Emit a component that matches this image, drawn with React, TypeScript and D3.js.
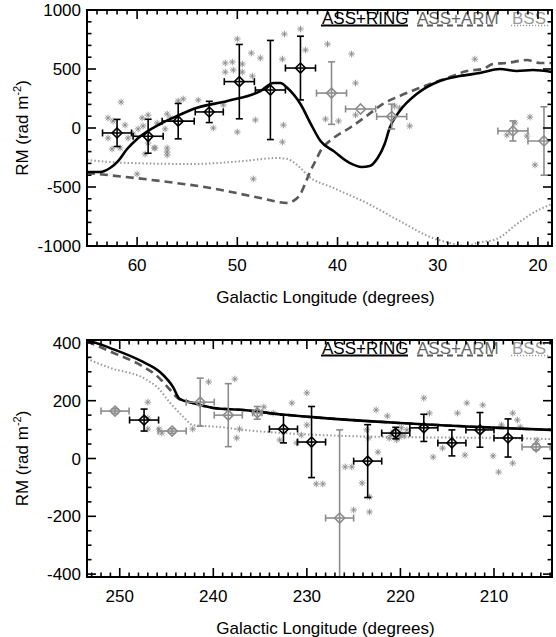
import React from 'react';
import * as d3 from 'd3';

// ---------- top panel data (Galactic longitude, RM) ----------
const topRing: [number, number][] = [[65,-373],[63.7,-373],[62.7,-339],[61.9,-280],[61.0,-178],[60.0,-93],[57.7,34],[56.0,102],[54.4,161],[51.0,229],[47.7,313],[46.4,381],[45.7,381],[45.0,339],[43.7,203],[42.7,40],[41.7,-110],[40.4,-195],[38.8,-296],[37.6,-330],[36.8,-322],[36.0,-254],[35.3,-136],[34.8,0],[33.8,144],[32.1,288],[29.8,398],[27.8,440],[25.8,466],[23.8,500],[22.1,483],[20.5,491],[18.6,474]];
const topArm: [number, number][] = [[65,-381],[57.7,-449],[52.7,-508],[47.7,-593],[45.0,-635],[44.4,-618],[43.7,-559],[43.2,-466],[42.7,-364],[42.2,-280],[41.7,-195],[40.4,-85],[38.8,0],[37.1,102],[35.5,203],[33.8,271],[32.1,330],[30.5,381],[28.8,432],[27.1,483],[25.5,500],[24.5,542],[23.1,551],[21.1,576],[19.8,551],[18.6,551]];
const topBss: [number, number][] = [[65,-271],[61.0,-296],[54.4,-305],[49.4,-280],[46.0,-254],[45.0,-263],[43.7,-339],[42.9,-407],[40.4,-508],[37.1,-635],[33.8,-788],[30.5,-932],[28.8,-974],[27.1,-1000],[26.1,-974],[24.1,-940],[22.1,-813],[20.5,-720],[18.6,-644]];
// [lon, rm, lonErr, rmErr]
const topBlack: number[][] = [[62.0,-42,1.45,115],[58.9,-70,1.5,144],[55.9,58,1.6,150],[52.8,136,1.4,90],[49.8,393,1.5,315],[46.7,322,1.5,420],[43.7,508,1.5,270]];
const topGray: number[][] = [[40.6,296,1.5,265],[37.7,161,1.5,0],[34.6,97,1.5,105],[22.5,-25,1.5,85],[19.4,-110,1.6,290]];
const topStars: [number, number][] = [[61.6,220],[62.9,85],[62.4,59],[61.2,25],[62.9,-85],[60.9,-85],[60.4,-51],[59.9,-8],[59.5,85],[58.9,110],[59.4,17],[58.0,42],[57.0,119],[56.7,85],[57.2,-8],[55.9,229],[55.4,246],[53.9,237],[52.4,0],[51.4,195],[51.2,474],[51.2,551],[50.5,559],[50.4,491],[50.0,754],[49.5,542],[49.5,474],[48.6,635],[48.5,440],[47.7,593],[48.2,68],[50.0,-34],[45.5,584],[45.3,796],[45.4,25],[45.5,-119],[43.7,839],[43.2,661],[41.0,711],[57.0,-169],[58.3,-169],[58.9,-127],[62.5,-178],[61.7,-169],[59.2,-220],[58.2,-169],[57.0,-203],[57.0,-229],[60.0,-390],[48.4,-432],[38.6,627],[38.2,381],[38.2,110],[39.9,59],[41.2,76],[34.3,186],[33.8,169],[26.3,584],[22.3,42],[20.8,93],[23.1,-59],[21.1,-68],[32.8,17],[20.3,-313]];

// ---------- bottom panel data ----------
const botRing: [number, number][] = [[253.5,410],[251,382],[247.5,334],[245.7,299],[244.3,247],[243.6,206],[242.2,192],[240,175],[236.8,168],[233.2,154],[229.7,144],[220.1,123],[209.4,106],[203.8,99]];
const botArm: [number, number][] = [[253.5,405],[251,370],[247.5,318],[246,285],[244.6,237],[243.8,209],[242.2,192],[240,175],[236.8,168],[233.2,154],[229.7,144],[220.1,123],[209.4,106],[203.8,99]];
const botBss: [number, number][] = [[253.5,345],[251,313],[247.5,279],[246,247],[244.6,192],[243.2,144],[242.2,116],[239.3,109],[236.8,99],[231.5,86],[226,78],[220.1,74],[209.4,71],[203.8,67]];
const botBlack: number[][] = [[247.4,133,1.55,38],[232.5,102,1.5,48],[229.5,57,1.5,123],[223.5,-9,1.5,126],[220.5,88,1.5,20],[217.5,106,1.5,47],[214.5,54,1.5,45],[211.5,99,1.5,60],[208.5,71,1.5,66]];
const botGray: number[][] = [[250.5,164,1.5,8],[244.4,95,1.5,8],[241.4,195,1.5,83],[238.4,150,1.5,109],[235.3,158,0.5,22],[226.5,-206,1.5,305],[205.5,40,1.5,10]];
const botStars: [number, number][] = [[247.0,195],[247.0,140],[247.0,102],[245.8,102],[245.5,88],[242.2,102],[240.5,265],[237.7,275],[237.2,102],[237.5,71],[234.6,178],[233.6,157],[231.6,192],[232.9,64],[231.1,54],[230.0,116],[230.0,227],[230.6,81],[222.6,168],[221.4,147],[223.4,71],[222.4,22],[223.6,99],[219.9,106],[219.3,99],[220.4,64],[220.1,74],[221.0,80],[220.8,92],[220.0,85],[219.6,78],[221.2,70],[217.5,209],[216.9,157],[216.5,5],[215.5,36],[213.9,157],[213.1,12],[212.9,192],[211.2,185],[210.1,9],[209.5,-47],[209.2,116],[208.0,157],[207.5,133],[207.2,109],[208.0,-16],[205.4,64],[229.0,-88],[228.3,-88],[224.1,-85],[223.3,-133],[225.0,-178],[223.3,-185],[225.9,-29],[225.2,-29]];

// ---------- axes ----------
const topXMajor = [60, 50, 40, 30, 20];
const topYMajor = [-1000, -500, 0, 500, 1000];
const botXMajor = [250, 240, 230, 220, 210];
const botYMajor = [-400, -200, 0, 200, 400];
const legendLabels = ['ASS+RING', 'ASS+ARM', 'BSS'];
const xTitle = 'Galactic Longitude (degrees)';

const FONT = "'Liberation Sans', Arial, Helvetica, sans-serif";
const L = 87, R = 552;

function Asterisk({ x, y }: { x: number; y: number }) {
  const s = 3.3, d = 2.4;
  return (
    <g stroke="#8a8a8a" strokeWidth={0.9}>
      <line x1={x - s} y1={y} x2={x + s} y2={y} />
      <line x1={x} y1={y - s} x2={x} y2={y + s} />
      <line x1={x - d} y1={y - d} x2={x + d} y2={y + d} />
      <line x1={x - d} y1={y + d} x2={x + d} y2={y - d} />
    </g>
  );
}

function ErrPoint({ p, x, y, color, sw }: any) {
  const [lon, rm, dl, dr] = p;
  const cx = x(lon), cy = y(rm);
  const x1 = x(lon + dl), x2 = x(lon - dl);
  const y1 = y(rm + dr), y2 = y(rm - dr);
  const c = 3.5, h = 5;
  return (
    <g stroke={color} strokeWidth={sw} fill="none">
      <line x1={x1} y1={cy} x2={x2} y2={cy} />
      <line x1={x1} y1={cy - c} x2={x1} y2={cy + c} />
      <line x1={x2} y1={cy - c} x2={x2} y2={cy + c} />
      {dr > 0 && <>
        <line x1={cx} y1={y1} x2={cx} y2={y2} />
        <line x1={cx - c} y1={y1} x2={cx + c} y2={y1} />
        <line x1={cx - c} y1={y2} x2={cx + c} y2={y2} />
      </>}
      <path d={`M${cx},${cy - h}L${cx + h},${cy}L${cx},${cy + h}L${cx - h},${cy}Z`} />
    </g>
  );
}

function Panel({ id, top, bottom, xDomain, yDomain, xMajor, yMajor, yMinorStep, ring, arm, bss, black, gray, stars }: any) {
  const x = d3.scaleLinear().domain(xDomain).range([L, R]);
  const y = d3.scaleLinear().domain(yDomain).range([bottom, top]);
  const line = d3.line<[number, number]>().x(d => x(d[0])).y(d => y(d[1])).curve(d3.curveMonotoneX);
  const lo = Math.min(...xDomain), hi = Math.max(...xDomain);
  const xMinor = d3.range(Math.ceil(lo), Math.floor(hi) + 1, 1);
  const yMinor = d3.range(yMajor[0], yMajor[yMajor.length - 1] + 1, yMinorStep);
  const clip = `clip-${id}`;
  const mT = 9, mn = 4.5;
  const lb = top + 14, ul = top + 15.5;
  return (
    <g>
      <defs>
        <clipPath id={clip}><rect x={L} y={top} width={R - L} height={bottom - top} /></clipPath>
      </defs>
      <g clipPath={`url(#${clip})`}>
        {stars.map((s: any, i: number) => <Asterisk key={i} x={x(s[0])} y={y(s[1])} />)}
        <path d={line(bss) || ''} fill="none" stroke="#9a9a9a" strokeWidth={2} strokeDasharray="1.5,2.2" />
        <path d={line(arm) || ''} fill="none" stroke="#595959" strokeWidth={2.6} strokeDasharray="8,5" />
        <path d={line(ring) || ''} fill="none" stroke="#000" strokeWidth={2.6} />
        {gray.map((p: any, i: number) => <ErrPoint key={'g' + i} p={p} x={x} y={y} color="#8c8c8c" sw={1.6} />)}
        {black.map((p: any, i: number) => <ErrPoint key={'b' + i} p={p} x={x} y={y} color="#000" sw={1.6} />)}
      </g>
      {/* legend */}
      <g fontFamily={FONT} fontSize={17}>
        <text x={322} y={lb} fill="#000">{legendLabels[0]}</text>
        <line x1={321} x2={408} y1={ul} y2={ul} stroke="#000" strokeWidth={2} />
        <text x={417} y={lb} fill="#666">{legendLabels[1]}</text>
        <line x1={417} x2={497} y1={ul} y2={ul} stroke="#595959" strokeWidth={2.2} strokeDasharray="6,4" />
        <text x={512} y={lb} fill="#9a9a9a">{legendLabels[2]}</text>
        <line x1={511} x2={550} y1={ul} y2={ul} stroke="#9a9a9a" strokeWidth={1.6} strokeDasharray="1.2,1.8" />
      </g>
      {/* frame and ticks */}
      <rect x={L} y={top} width={R - L} height={bottom - top} fill="none" stroke="#000" strokeWidth={2} />
      <g stroke="#000" strokeWidth={1.6}>
        {xMinor.map((v: number) => {
          const t = xMajor.includes(v) ? mT : mn;
          return <g key={'x' + v}>
            <line x1={x(v)} x2={x(v)} y1={bottom} y2={bottom - t} />
            <line x1={x(v)} x2={x(v)} y1={top} y2={top + t} />
          </g>;
        })}
        {yMinor.map((v: number) => {
          const t = yMajor.includes(v) ? mT : mn;
          return <g key={'y' + v}>
            <line x1={L} x2={L + t} y1={y(v)} y2={y(v)} />
            <line x1={R} x2={R - t} y1={y(v)} y2={y(v)} />
          </g>;
        })}
      </g>
      <g fontFamily={FONT} fontSize={17} fill="#000">
        {xMajor.map((v: number) => <text key={'xl' + v} x={x(v)} y={bottom + 25} textAnchor="middle">{v}</text>)}
        {yMajor.map((v: number) => <text key={'yl' + v} x={L - 6} y={y(v) + 6} textAnchor="end">{v}</text>)}
        <text x={(L + R) / 2 + 6} y={bottom + 57} textAnchor="middle">{xTitle}</text>
        <text transform={`translate(28,${(top + bottom) / 2}) rotate(-90)`} textAnchor="middle">
          RM (rad m<tspan dy={-7} fontSize={11}>-2</tspan><tspan dy={7}>)</tspan>
        </text>
      </g>
    </g>
  );
}

export default function App() {
  return (
    <svg width={556} height={637} style={{ position: 'absolute', left: 0, top: 0, background: '#fff' }}>
      <rect width={556} height={637} fill="#fff" />
      <Panel id="t" top={10} bottom={246} xDomain={[65, 18.6]} yDomain={[-1000, 1000]}
        xMajor={topXMajor} yMajor={topYMajor} yMinorStep={100}
        ring={topRing} arm={topArm} bss={topBss} black={topBlack} gray={topGray} stars={topStars} />
      <Panel id="b" top={340} bottom={577} xDomain={[253.5, 203.8]} yDomain={[-410, 410]}
        xMajor={botXMajor} yMajor={botYMajor} yMinorStep={50}
        ring={botRing} arm={botArm} bss={botBss} black={botBlack} gray={botGray} stars={botStars} />
    </svg>
  );
}
